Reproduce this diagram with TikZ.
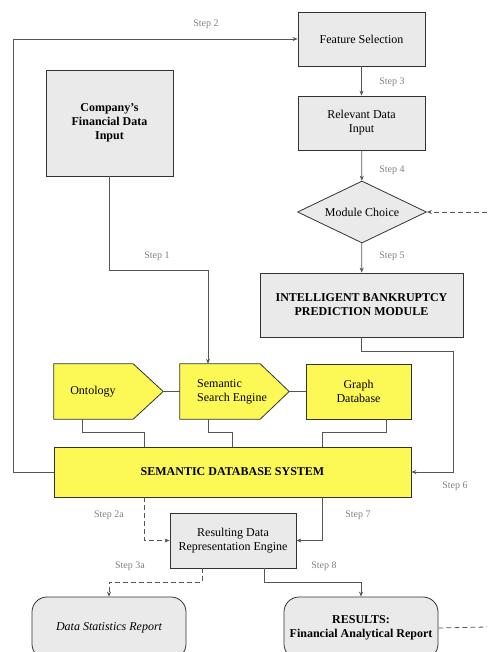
\documentclass[tikz,border=0pt]{standalone}
\usepackage{fontspec}
\setmainfont{Liberation Serif}
\usetikzlibrary{shapes.geometric,arrows.meta,calc}
\definecolor{boxgrey}{RGB}{234,234,234}
\definecolor{boxyellow}{RGB}{252,248,86}
\definecolor{edgecol}{RGB}{50,50,50}
\definecolor{conncol}{RGB}{85,85,85}
\definecolor{labcol}{RGB}{128,128,128}
\tikzset{
  gbox/.style={draw=edgecol, fill=boxgrey, line width=0.8pt, inner sep=0pt, align=center, font=\fontsize{12}{14}\selectfont},
  ybox/.style={draw=edgecol, fill=boxyellow, line width=0.8pt, inner sep=0pt, align=center, font=\fontsize{12}{14}\selectfont},
  txt/.style={inner sep=0pt, font=\fontsize{12}{14}\selectfont},
  conn/.style={draw=conncol, line width=0.8pt},
  arr/.style={-{Stealth[length=5pt,width=4pt]}},
  dashline/.style={dash pattern=on 5pt off 3pt},
  steplab/.style={text=labcol, inner sep=0pt, font=\fontsize{10}{12}\selectfont},
}
\begin{document}
\begin{tikzpicture}[x=1pt,y=-1pt]
\useasboundingbox (0,0) rectangle (487,652);
% boxes
\node[gbox, minimum width=127pt, minimum height=54pt] (fs) at (361.5,39) {Feature Selection};
\node[gbox, minimum width=127pt, minimum height=106pt, font=\fontsize{12}{14}\selectfont\bfseries] (cfdi) at (109.5,123) {Company's\\Financial Data\\Input};
\node[gbox, minimum width=127pt, minimum height=54pt] (rdi) at (361.5,123) {Relevant Data\\Input};
\node[gbox, diamond, aspect=2.08, minimum width=129pt, minimum height=62pt] (mc) at (362,212) {Module Choice};
\node[gbox, minimum width=203pt, minimum height=64pt, font=\fontsize{12}{14}\selectfont\bfseries] (ibpm) at (361.5,305) {INTELLIGENT BANKRUPTCY\\PREDICTION MODULE};
% pentagon-arrow shapes
\node[inner sep=0pt, minimum width=109pt, minimum height=55pt] (onto) at (108.5,391.5) {};
\draw[ybox] (onto.north west) -- ([xshift=-30pt]onto.north east) -- (onto.east) -- ([xshift=-30pt]onto.south east) -- (onto.south west) -- cycle;
\node[txt] (ontot) at (93,392) {Ontology};
\node[inner sep=0pt, minimum width=109pt, minimum height=55pt] (sse) at (234.5,391.5) {};
\draw[ybox] (sse.north west) -- ([xshift=-29pt]sse.north east) -- (sse.east) -- ([xshift=-29pt]sse.south east) -- (sse.south west) -- cycle;
\node[txt, align=left] (sset) at (232,392) {Semantic\\Search Engine};
\node[ybox, minimum width=105pt, minimum height=55pt] (gdb) at (358.5,391.5) {Graph\\Database};
\node[ybox, minimum width=357pt, minimum height=50pt, font=\fontsize{12}{14}\selectfont\bfseries] (sds) at (232.5,472) {SEMANTIC DATABASE SYSTEM};
\node[gbox, minimum width=126pt, minimum height=55pt] (rdre) at (233,540.5) {Resulting Data\\Representation Engine};
\node[gbox, rounded corners=15pt, minimum width=154pt, minimum height=62pt, font=\fontsize{12}{14}\selectfont\itshape] (dsr) at (109,628) {Data Statistics Report};
\node[gbox, rounded corners=15pt, minimum width=154pt, minimum height=62pt, font=\fontsize{12}{14}\selectfont\bfseries] (res) at (361,628) {RESULTS:\\Financial Analytical Report};
% free-end coordinates
\coordinate (rin) at (487,212);
\coordinate (rout) at (487,627);
% connectors
\draw[conn,arr] (sds.west) -- ++(-40,0) |- (fs.west);
\draw[conn,arr] (fs) -- (rdi);
\draw[conn,arr] (rdi) -- (mc);
\draw[conn,arr,dashline] (rin) -- (mc.east);
\draw[conn,arr] (mc) -- (ibpm);
\draw[conn,arr] (ibpm.south) -- ++(0,14) -| ($(sds.east)+(42,0)$) -- (sds.east);
\draw[conn,arr] (cfdi.south) -- ++(0,94) -| ([xshift=-26.5pt]sse.north);
\draw[conn] (onto.east) -- (sse.west);
\draw[conn] (sse.east) -- (gdb.west);
\draw[conn] ([xshift=-26.5pt]onto.south) -- ++(0,13) -| ($(sds.north)+(-88.5,0)$);
\draw[conn] ([xshift=-26.5pt]sse.south) -- ++(0,13) -| (sds.north);
\draw[conn] ([xshift=27.5pt]gdb.south) -- ++(0,13) -| ($(sds.north)+(89.5,0)$);
\draw[conn,arr,dashline] ($(sds.south)+(-88.5,0)$) |- (rdre.west);
\draw[conn,arr] ($(sds.south)+(89.5,0)$) |- (rdre.east);
\draw[conn,arr,dashline] ([xshift=-31pt]rdre.south) -- ++(0,14) -| (dsr.north);
\draw[conn,arr] ([xshift=31pt]rdre.south) -- ++(0,14) -| (res.north);
\draw[conn,dashline] (res.east) -- (rout);
% step labels
\node[steplab] (s2) at (206,24) {Step 2};
\node[steplab] (s3) at (392,82) {Step 3};
\node[steplab] (s4) at (392,170) {Step 4};
\node[steplab] (s5) at (392,256) {Step 5};
\node[steplab] (s1) at (157,256) {Step 1};
\node[steplab] (s6) at (455,486) {Step 6};
\node[steplab] (s2a) at (109,515) {Step 2a};
\node[steplab] (s7) at (358,515) {Step 7};
\node[steplab] (s3a) at (130,566) {Step 3a};
\node[steplab] (s8) at (324,566) {Step 8};
\end{tikzpicture}
\end{document}
